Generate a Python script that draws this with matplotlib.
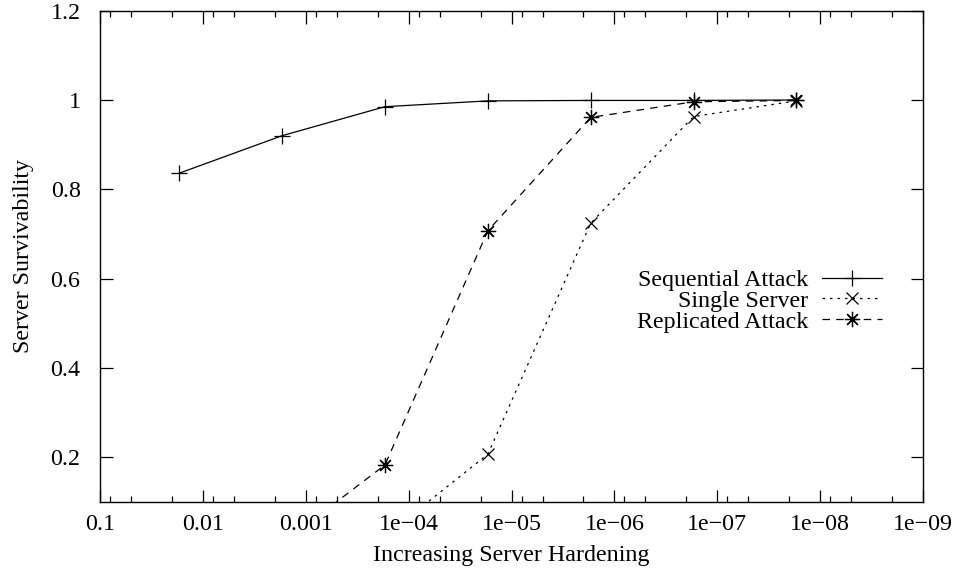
import numpy as np
import matplotlib
matplotlib.use("Agg")
import matplotlib.pyplot as plt
from matplotlib.ticker import FixedLocator, LogLocator, NullFormatter, FuncFormatter

plt.rcParams['font.family'] = ['Liberation Serif', 'DejaVu Serif']
plt.rcParams['font.size'] = 17.3

# hardening levels (x) and survivability of each scheme
hardening = [1.7e-2, 1.7e-3, 1.7e-4, 1.7e-5, 1.7e-6, 1.7e-7, 1.7e-8]
sequential = [0.836, 0.920, 0.985, 0.998, 0.999, 0.999, 1.0]
single = [0.0, 0.001, 0.023, 0.2065, 0.724, 0.963, 0.998]
replicated = [0.0, 0.007, 0.1825, 0.707, 0.961, 0.996, 0.999]

xticks = [1e-1, 1e-2, 1e-3, 1e-4, 1e-5, 1e-6, 1e-7, 1e-8, 1e-9]
xticklabels = ["0.1", "0.01", "0.001", "1e\u221204", "1e\u221205",
               "1e\u221206", "1e\u221207", "1e\u221208", "1e\u221209"]
yticks = [0.2, 0.4, 0.6, 0.8, 1.0, 1.2]

fig = plt.figure(figsize=(9.6, 5.69), dpi=100)
ax = fig.add_axes([0.1042, 0.1181, 0.8573, 0.8631])

lw = 0.9
ax.plot(hardening, sequential, color='black', lw=lw, linestyle='-',
        marker='+', markersize=11, markeredgewidth=lw, label='Sequential Attack')
ax.plot(hardening, single, color='black', lw=lw, linestyle=(0, (2, 4)),
        marker='x', markersize=9, markeredgewidth=lw, label='Single Server')
ax.plot(hardening, replicated, color='black', lw=lw, linestyle=(0, (6, 5)),
        marker=(8, 2, 0), markersize=11, markeredgewidth=lw, label='Replicated Attack')

ax.set_xscale('log')
ax.set_xlim(1e-1, 1e-9)
ax.set_ylim(0.1, 1.2)

ax.xaxis.set_major_locator(FixedLocator(xticks))
ax.set_xticklabels(xticklabels)
ax.xaxis.set_minor_locator(LogLocator(base=10, subs=(2, 5, 8), numticks=20))
ax.xaxis.set_minor_formatter(NullFormatter())

ax.set_yticks(yticks)
ax.yaxis.set_major_formatter(FuncFormatter(lambda v, p: "%g" % v))

ax.tick_params(which='both', direction='in', top=True, right=True, width=0.9)
ax.tick_params(which='major', length=9)
ax.tick_params(which='minor', length=4.5)
ax.tick_params(axis='x', which='major', pad=9)
ax.tick_params(axis='y', which='major', pad=14)
for s in ax.spines.values():
    s.set_linewidth(1.0)

ax.set_xlabel("Increasing Server Hardening", labelpad=7)
ax.set_ylabel("Server Survivability", labelpad=12)

leg = ax.legend(loc='center right', bbox_to_anchor=(0.950, 0.409),
                frameon=False, markerfirst=False, handlelength=2.5,
                handletextpad=0.55, labelspacing=-0.04, borderpad=0,
                borderaxespad=0)
for t in leg.get_texts():
    t.set_ha('right')
leg._legend_box.align = 'right'

fig.savefig("out.png", dpi=100)
